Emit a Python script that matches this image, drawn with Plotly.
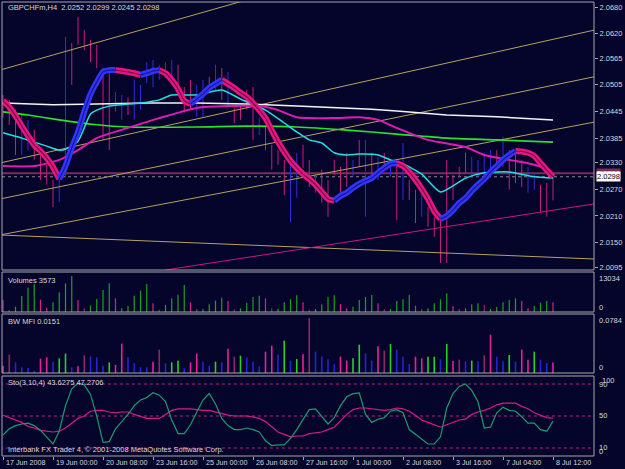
import plotly.graph_objects as go

W, H = 625, 469

# ------------------------------------------------------------------ data
symbol = "GBPCHFm,H4"
last_ohlc = [2.0252, 2.0299, 2.0245, 2.0298]
tick_bars = [0, 8, 16, 24, 32, 40, 48, 56, 64, 72, 80, 88]
tick_labels = ["17 Jun 2008", "19 Jun 00:00", "20 Jun 08:00", "23 Jun 16:00",
               "25 Jun 00:00", "26 Jun 08:00", "27 Jun 16:00", "1 Jul 00:00",
               "2 Jul 08:00", "3 Jul 16:00", "7 Jul 04:00", "8 Jul 12:00"]
price_ticks = [2.0680, 2.0620, 2.0565, 2.0505, 2.0445, 2.0385, 2.0330,
               2.0270, 2.0210, 2.0150, 2.0095]

highs = [2.0482, 2.0471, 2.0449, 2.0437, 2.0426, 2.0404, 2.0358, 2.0325, 2.0291, 2.0296,
         2.0613, 2.0599, 2.0658, 2.0628, 2.0606, 2.0595, 2.0543, 2.0534, 2.0489, 2.0482,
         2.0476, 2.0516, 2.0505, 2.0556, 2.0561, 2.0550, 2.0556, 2.0561, 2.0550, 2.0500,
         2.0516, 2.0505, 2.0516, 2.0523, 2.0550, 2.0543, 2.0534, 2.0453, 2.0460, 2.0494,
         2.0500, 2.0431, 2.0410, 2.0370, 2.0358, 2.0336, 2.0329, 2.0352, 2.0370, 2.0336,
         2.0307, 2.0314, 2.0291, 2.0336, 2.0320, 2.0352, 2.0336, 2.0381, 2.0381, 2.0352,
         2.0343, 2.0352, 2.0336, 2.0336, 2.0374, 2.0291, 2.0269, 2.0273, 2.0230, 2.0208,
         2.0208, 2.0336, 2.0302, 2.0320, 2.0352, 2.0343, 2.0336, 2.0352, 2.0358, 2.0358,
         2.0388, 2.0358, 2.0352, 2.0336, 2.0320, 2.0307, 2.0280, 2.0284, 2.0299]
lows = [2.0431, 2.0415, 2.0347, 2.0347, 2.0358, 2.0336, 2.0291, 2.0280, 2.0230, 2.0241,
        2.0296, 2.0505, 2.0595, 2.0583, 2.0556, 2.0543, 2.0381, 2.0358, 2.0444, 2.0426,
        2.0437, 2.0426, 2.0449, 2.0509, 2.0500, 2.0516, 2.0520, 2.0523, 2.0494, 2.0442,
        2.0449, 2.0433, 2.0433, 2.0494, 2.0494, 2.0471, 2.0455, 2.0419, 2.0426, 2.0449,
        2.0381, 2.0392, 2.0358, 2.0314, 2.0325, 2.0257, 2.0196, 2.0251, 2.0318, 2.0275,
        2.0262, 2.0239, 2.0208, 2.0302, 2.0262, 2.0275, 2.0298, 2.0320, 2.0208, 2.0291,
        2.0291, 2.0320, 2.0298, 2.0201, 2.0246, 2.0246, 2.0194, 2.0208, 2.0185, 2.0163,
        2.0104, 2.0104, 2.0246, 2.0298, 2.0307, 2.0298, 2.0298, 2.0291, 2.0298, 2.0314,
        2.0320, 2.0269, 2.0284, 2.0275, 2.0262, 2.0269, 2.0219, 2.0208, 2.0245]
bar_dir = list("ddduudddduuddddddduuduuuuuuudddu"
               "udududdddudddduuddudddddudududu"
               "dudduddddddduuuududdduudddddduu")

hma = [2.0469, 2.0455, 2.0435, 2.0412, 2.0390, 2.0369, 2.0356, 2.0340, 2.0320, 2.0293,
       2.0322, 2.0363, 2.0399, 2.0444, 2.0484, 2.0511, 2.0534, 2.0538, 2.0538, 2.0536,
       2.0534, 2.0531, 2.0527, 2.0531, 2.0536, 2.0538, 2.0531, 2.0516, 2.0496, 2.0469,
       2.0462, 2.0473, 2.0484, 2.0498, 2.0507, 2.0516, 2.0507, 2.0498, 2.0487, 2.0478,
       2.0464, 2.0448, 2.0430, 2.0403, 2.0376, 2.0354, 2.0334, 2.0318, 2.0304, 2.0293,
       2.0280, 2.0264, 2.0248, 2.0244, 2.0255, 2.0262, 2.0273, 2.0282, 2.0289, 2.0295,
       2.0307, 2.0318, 2.0327, 2.0329, 2.0322, 2.0309, 2.0291, 2.0271, 2.0248, 2.0221,
       2.0203, 2.0210, 2.0223, 2.0239, 2.0250, 2.0266, 2.0280, 2.0293, 2.0309, 2.0322,
       2.0336, 2.0347, 2.0356, 2.0355, 2.0352, 2.0345, 2.0329, 2.0313, 2.0298]

white_idx = [0, 8, 15, 23, 31, 39, 47, 54, 59, 63, 71, 79, 88]
white_val = [2.0464, 2.0460, 2.0462, 2.0464, 2.0464, 2.0462, 2.0457, 2.0453, 2.0450,
             2.0446, 2.0437, 2.0433, 2.0426]
green_idx = [0, 4, 9, 15, 20, 31, 39, 47, 55, 63, 71, 79, 88]
green_val = [2.0444, 2.0437, 2.0426, 2.0415, 2.0410, 2.0410, 2.0412, 2.0410, 2.0403,
             2.0394, 2.0385, 2.0381, 2.0376]
cyan_idx = [0, 3, 5, 7, 9, 10, 12, 13, 14, 15, 17, 22, 25, 27, 31, 35, 38, 42, 45, 47,
            49, 51, 53, 55, 57, 60, 62, 64, 67, 70, 74, 77, 81, 85, 88]
cyan_val = [2.0397, 2.0385, 2.0376, 2.0367, 2.0358, 2.0360, 2.0378, 2.0408, 2.0439, 2.0448,
            2.0457, 2.0464, 2.0471, 2.0482, 2.0482, 2.0493, 2.0473, 2.0448, 2.0419, 2.0399,
            2.0381, 2.0374, 2.0352, 2.0347, 2.0349, 2.0347, 2.0336, 2.0327, 2.0304, 2.0264,
            2.0295, 2.0307, 2.0309, 2.0298, 2.0295]
magenta_idx = [0, 5, 9, 12, 15, 20, 25, 31, 36, 41, 44, 47, 53, 57, 60, 63, 68, 74, 77,
               81, 85, 87, 88]
magenta_val = [2.0322, 2.0322, 2.0336, 2.0358, 2.0385, 2.0408, 2.0430, 2.0453, 2.0457,
               2.0457, 2.0448, 2.0432, 2.0430, 2.0432, 2.0426, 2.0408, 2.0381, 2.0365,
               2.0347, 2.0336, 2.0325, 2.0314, 2.0300]

trend_tan = [([-0.5, 39.5], [2.0538, 2.0698]),
             ([-0.5, 94.6], [2.0329, 2.0628]),
             ([-0.5, 94.6], [2.0248, 2.0523]),
             ([-0.5, 94.6], [2.0167, 2.0421]),
             ([-0.5, 94.6], [2.0167, 2.0113])]
trend_pink = ([25.9, 94.6], [2.0088, 2.0237])
level_line = 2.0306

volumes = [4345, 724, 1931, 5794, 8811, 10139, 4466, 1569, 3500, 7121,
           10380, 13034, 4345, 1328, 2293, 4707, 7966, 10380, 4949, 1328,
           2173, 5914, 7725, 10139, 3138, 845, 2535, 4949, 6276, 9777,
           3500, 1086, 1086, 2776, 4104, 5190, 3983, 966, 1328, 3380,
           5432, 5914, 4949, 1328, 1207, 3500, 4587, 6035, 3500, 845,
           1086, 2776, 5432, 6035, 2897, 1328, 1931, 4345, 5432, 6156,
           3138, 966, 1086, 3983, 4587, 6156, 2293, 1086, 1328, 3138,
           4587, 6759, 2173, 1086, 1328, 2776, 3138, 2535, 1086, 1811,
           3500, 4345, 4949, 3983, 1328, 2173, 3380, 3983, 3573]
vol_type = list("pmggggppgg" "ggpmggggpg" "ggggpmgggg" "pmggggpmgg"
                "ggpmggggpm" "ggggppgggg" "pmggggpmgg" "ggpmgggmgg" "gggppgggp")
vol_max = 13034

mfi = [0.0105, 0.0261, 0.0152, 0.0081, 0.0071, 0.0033, 0.0204, 0.0223, 0.0162, 0.0209,
       0.0276, 0.0081, 0.0095, 0.0252, 0.0238, 0.0223, 0.0105, 0.0152, 0.0114, 0.0418,
       0.0223, 0.0138, 0.0081, 0.0081, 0.0162, 0.0333, 0.0138, 0.0152, 0.0176, 0.0071,
       0.0152, 0.0276, 0.0162, 0.0105, 0.0162, 0.0152, 0.0347, 0.0233, 0.0247, 0.0223,
       0.0162, 0.0095, 0.0304, 0.0390, 0.0261, 0.0461, 0.0176, 0.0200, 0.0266, 0.0784,
       0.0304, 0.0233, 0.0195, 0.0124, 0.0233, 0.0176, 0.0209, 0.0404, 0.0280, 0.0176,
       0.0380, 0.0318, 0.0413, 0.0333, 0.0233, 0.0128, 0.0233, 0.0209, 0.0233, 0.0233,
       0.0195, 0.0413, 0.0176, 0.0190, 0.0166, 0.0176, 0.0166, 0.0252, 0.0546, 0.0233,
       0.0166, 0.0257, 0.0162, 0.0333, 0.0190, 0.0304, 0.0190, 0.0143, 0.0151]
mfi_type = list("pmbbbbppbg" "gbpmbbbgpp" "bbbbpmbggb" "ppbbgbpmgb"
                "bbppbgbgpm" "bbbbppggbb" "pmgbbbppgg" "bgpmbgbmpb" "bgbppgbbp")
mfi_max = 0.0784

sto_k = [26, 34, 38, 40, 41, 38, 32, 24, 15, 31,
         63, 84, 91, 89, 77, 50, 17, 18, 34, 43,
         52, 63, 70, 73, 79, 76, 68, 45, 28, 28,
         39, 55, 70, 78, 65, 47, 38, 33, 33, 35,
         33, 30, 19, 13, 14, 14, 22, 33, 45, 58,
         59, 50, 40, 48, 63, 74, 78, 79, 52, 42,
         46, 48, 56, 58, 54, 33, 27, 21, 15, 15,
         24, 60, 78, 87, 90, 82, 68, 35, 36, 54,
         61, 57, 56, 49, 41, 41, 33, 31, 43.6275]
sto_d = [51, 48, 45, 42, 37, 35, 32, 31, 30, 31,
         35, 41, 47, 50, 56, 57, 57, 55, 54, 55,
         55, 52, 49, 47, 47, 47, 52, 57, 59, 59,
         59, 58, 57, 57, 55, 53, 51, 50, 50, 50,
         49, 47, 43, 37, 30, 27, 24, 25, 25, 28,
         29, 30, 33, 36, 44, 52, 58, 60, 60, 59,
         58, 57, 58, 60, 59, 56, 51, 45, 42, 39,
         36, 39, 42, 45, 46, 52, 55, 57, 60, 64,
         66, 66, 66, 62, 59, 54, 51, 48, 47.2706]
sto_levels = [90, 50, 10]

# ------------------------------------------------------------------ style
BG = "#05052c"
BORDER = "#a8a8a8"
TXT = "#d8d8d8"
FONT = "Liberation Sans"
FS = 7.5

def px(x):
    return x / W

def py(y):
    return 1 - y / H

n = len(highs)
fig = go.Figure()

# candles (high-low bars)
for d, col in (("u", "#2c2cd8"), ("d", "#c81c78")):
    xs, ys = [], []
    for i in range(n):
        if bar_dir[i] == d:
            xs += [i, i, None]
            ys += [lows[i], highs[i], None]
    fig.add_trace(go.Scatter(x=xs, y=ys, mode="lines", line=dict(color=col, width=1),
                             xaxis="x", yaxis="y", hoverinfo="skip"))

# trend lines
for tx, ty in trend_tan:
    fig.add_trace(go.Scatter(x=tx, y=ty, mode="lines", line=dict(color="#b8a060", width=1),
                             xaxis="x", yaxis="y", hoverinfo="skip"))
fig.add_trace(go.Scatter(x=trend_pink[0], y=trend_pink[1], mode="lines",
                         line=dict(color="#c8187e", width=1), xaxis="x", yaxis="y"))

# moving averages
fig.add_trace(go.Scatter(x=white_idx, y=white_val, mode="lines",
                         line=dict(color="#f4f4f4", width=1.5), xaxis="x", yaxis="y"))
fig.add_trace(go.Scatter(x=green_idx, y=green_val, mode="lines",
                         line=dict(color="#2ee02e", width=1.6, shape="spline", smoothing=0.6),
                         xaxis="x", yaxis="y"))
fig.add_trace(go.Scatter(x=magenta_idx, y=magenta_val, mode="lines",
                         line=dict(color="#e01cb0", width=2, shape="spline", smoothing=0.6),
                         xaxis="x", yaxis="y"))
fig.add_trace(go.Scatter(x=cyan_idx, y=cyan_val, mode="lines",
                         line=dict(color="#22e0e0", width=1.5, shape="spline", smoothing=0.6),
                         xaxis="x", yaxis="y"))

# thick slope-coloured line
segs = []
cur, start = None, 0
for k in range(1, n):
    d = "u" if hma[k] > hma[k - 1] else ("d" if hma[k] < hma[k - 1] else cur)
    if cur is None:
        cur = d
    if d != cur:
        segs.append((cur, start, k - 1))
        start, cur = k - 1, d
segs.append((cur, start, n - 1))
for d, outer, inner in (("d", "#ea1580", "#7a0c48"), ("u", "#3434ff", "#15159a")):
    xs, ys = [], []
    for sd, s, e in segs:
        if sd == d:
            xs += list(range(s, e + 1)) + [None]
            ys += hma[s:e + 1] + [None]
    fig.add_trace(go.Scatter(x=xs, y=ys, mode="lines",
                             line=dict(color=outer, width=6, shape="spline", smoothing=0.5),
                             xaxis="x", yaxis="y"))
    fig.add_trace(go.Scatter(x=xs, y=ys, mode="lines",
                             line=dict(color=inner, width=1.2, shape="spline", smoothing=0.5),
                             xaxis="x", yaxis="y"))

# volumes
vcols = {"g": "#1fa01f", "p": "#d8208a", "m": "#8a2a62"}
for t, col in vcols.items():
    xs, ys = [], []
    for i in range(n):
        if vol_type[i] == t:
            xs += [i, i, None]
            ys += [0, volumes[i], None]
    fig.add_trace(go.Scatter(x=xs, y=ys, mode="lines", line=dict(color=col, width=1.2),
                             xaxis="x", yaxis="y2"))

# BW MFI
mcols = {"g": "#2ad02a", "b": "#2424d0", "p": "#e8209a", "m": "#8a2a62"}
for t, col in mcols.items():
    xs, ys = [], []
    for i in range(n):
        if mfi_type[i] == t:
            xs += [i, i, None]
            ys += [0, mfi[i], None]
    fig.add_trace(go.Scatter(x=xs, y=ys, mode="lines", line=dict(color=col, width=1.6),
                             xaxis="x", yaxis="y3"))

# stochastic
for lv in sto_levels:
    fig.add_trace(go.Scatter(x=[-0.5, 95], y=[lv, lv], mode="lines",
                             line=dict(color="#c41a8a", width=1, dash="dot"),
                             xaxis="x", yaxis="y4"))
fig.add_trace(go.Scatter(x=list(range(n)), y=sto_d, mode="lines",
                         line=dict(color="#d41c84", width=1.2), xaxis="x", yaxis="y4"))
fig.add_trace(go.Scatter(x=list(range(n)), y=sto_k, mode="lines",
                         line=dict(color="#1f9a70", width=1.2), xaxis="x", yaxis="y4"))

# ------------------------------------------------------------------ layout
XL, XR = 2, 594
panels = {"main": (2, 270), "vol": (272, 312), "mfi": (314, 373), "sto": (376, 456)}

def dom(key):
    t, b = panels[key]
    return [py(b), py(t)]

# price scale: 0.000225 per pixel, 2.0680 at y=7
ppp = 0.000225
main_range = [2.068 - (panels["main"][1] - 7) * ppp, 2.068 + (7 - panels["main"][0]) * ppp]
vol_range = [0, vol_max * (312 - 272) / (312 - 276)]
mfi_range = [0, mfi_max * (373 - 314) / (373 - 318)]

axis_common = dict(showgrid=False, zeroline=False, fixedrange=True)
fig.update_layout(
    width=W, height=H, margin=dict(l=0, r=0, t=0, b=0),
    paper_bgcolor=BG, plot_bgcolor=BG, showlegend=False,
    font=dict(family=FONT, size=FS, color=TXT),
    xaxis=dict(domain=[px(XL), px(XR)], range=[(XL - 3) / 6.25, (XR - 3) / 6.25],
               anchor="y4", tickvals=tick_bars, ticktext=[""] * len(tick_bars),
               ticks="outside", ticklen=3, tickcolor=BORDER, tickwidth=1,
               showline=False, automargin=False, **axis_common),
    yaxis=dict(domain=dom("main"), range=main_range, side="right", anchor="x",
               tickvals=price_ticks, ticktext=["%.4f" % v for v in price_ticks],
               ticks="outside", ticklen=3, tickcolor=BORDER, tickfont=dict(size=FS, color=TXT),
               automargin=False, **axis_common),
    yaxis2=dict(domain=dom("vol"), range=vol_range, anchor="x", showticklabels=False,
                **axis_common),
    yaxis3=dict(domain=dom("mfi"), range=mfi_range, anchor="x", showticklabels=False,
                **axis_common),
    yaxis4=dict(domain=dom("sto"), range=[0, 100], anchor="x", showticklabels=False,
                **axis_common),
)

shapes = []
for key, (t, b) in panels.items():
    shapes.append(dict(type="rect", xref="paper", yref="paper", x0=px(XL), x1=px(XR),
                       y0=py(b), y1=py(t), line=dict(color=BORDER, width=1), layer="above"))
shapes.append(dict(type="line", xref="paper", yref="y", x0=px(XL), x1=px(XR),
                   y0=level_line, y1=level_line, line=dict(color="#7a2c5c", width=2),
                   layer="below"))
shapes.append(dict(type="line", xref="paper", yref="y", x0=px(XL), x1=px(XR),
                   y0=last_ohlc[3], y1=last_ohlc[3], line=dict(color="#8a8a8a", width=1, dash="dot"),
                   layer="below"))
fig.update_layout(shapes=shapes)

ann = []

def text(x, y, s, anchor="left", **kw):
    d = dict(x=px(x), y=py(y), xref="paper", yref="paper", text=s, showarrow=False,
             xanchor=anchor, yanchor="middle", font=dict(family=FONT, size=FS, color=TXT))
    d.update(kw)
    ann.append(d)

text(6, 7.5, "%s  %.4f %.4f %.4f %.4f" % (symbol, *last_ohlc))
text(6, 280.5, "Volumes %d" % volumes[-1])
text(6, 321.5, "BW MFI %.4f" % mfi[-1])
text(6, 382.5, "Sto(3,10,4) %.4f %.4f" % (sto_k[-1], sto_d[-1]))
text(6, 449.5, "Interbank FX Trader 4, \u00a9 2001-2008 MetaQuotes Software Corp.")

text(597, 278, "%d" % vol_max)
text(597, 307.5, "0")
text(597, 320.5, "%.4f" % mfi_max)
text(597, 367.5, "0")
text(597, 384, "90")
text(600, 380.5, "100")
text(597, 415.5, "50")
text(597, 447, "10")
text(597, 451, "0")

# date labels, left-aligned just right of each tick
for tb, tl in zip(tick_bars, tick_labels):
    ann.append(dict(x=tb, y=py(462), xref="x", yref="paper", text=tl, showarrow=False,
                    xanchor="left", yanchor="middle", xshift=1,
                    font=dict(family=FONT, size=7.2, color=TXT)))

# price labels for the level line and the last close
ann.append(dict(x=px(596), y=level_line, xref="paper", yref="y", text="%.4f" % level_line,
                showarrow=False, xanchor="left", yanchor="middle", bgcolor="#7a2c5c",
                borderpad=0, font=dict(family=FONT, size=FS, color="#ff8fcf")))
ann.append(dict(x=px(596), y=last_ohlc[3], xref="paper", yref="y", text="%.4f" % last_ohlc[3],
                showarrow=False, xanchor="left", yanchor="middle", bgcolor="#ffffff",
                borderpad=0, font=dict(family=FONT, size=FS, color="#000000")))
fig.update_layout(annotations=ann)

fig.write_html("out.html")
